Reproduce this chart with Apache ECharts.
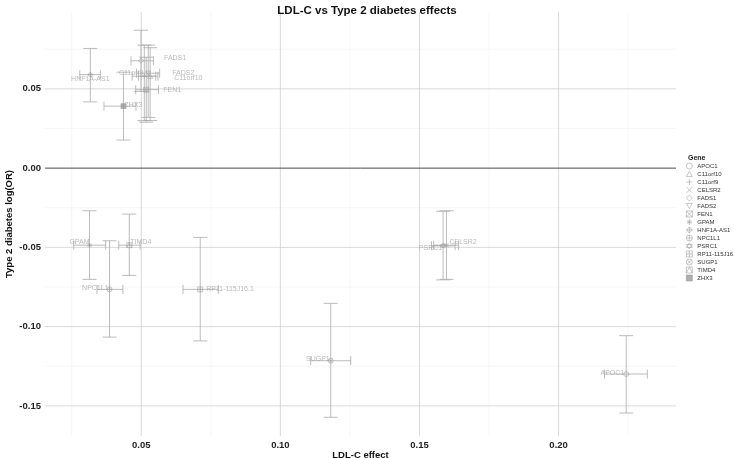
<!DOCTYPE html>
<html><head><meta charset="utf-8">
<script src="https://cdn.jsdelivr.net/npm/echarts@6/dist/echarts.min.js"></script>
<style>html,body{margin:0;padding:0;background:#fff}#c{width:734px;height:458px}</style>
</head><body><div id="c"></div>
<script>
// ---- data ----
const genes = ['APOC1','C11orf10','C11orf9','CELSR2','FADS1','FADS2','FEN1','GPAM','HNF1A-AS1','NPC1L1','PSRC1','RP11-115J16.1','SUGP1','TIMD4','ZHX3'];
const ldlEffect = [0.2243, 0.0532, 0.0511, 0.1597, 0.0499, 0.0525, 0.0518, 0.0314, 0.0317, 0.0386, 0.1585, 0.0712, 0.1181, 0.0457, 0.0436];
const ldlLow    = [0.2165, 0.0490, 0.0467, 0.1551, 0.0463, 0.0483, 0.0480, 0.0257, 0.0279, 0.0341, 0.1543, 0.0650, 0.1109, 0.0419, 0.0366];
const ldlHigh   = [0.2319, 0.0560, 0.0552, 0.1640, 0.0544, 0.0566, 0.0562, 0.0372, 0.0353, 0.0434, 0.1628, 0.0777, 0.1253, 0.0496, 0.0481];
const t2dEffect = [-0.1299, 0.0580, 0.0580, -0.0486, 0.0677, 0.0599, 0.0495, -0.0486, 0.0590, -0.0765, -0.0490, -0.0765, -0.1215, -0.0486, 0.0391];
const t2dLow    = [-0.1545, 0.0300, 0.0300, -0.0702, 0.0484, 0.0320, 0.0290, -0.0702, 0.0418, -0.1066, -0.0705, -0.1090, -0.1572, -0.0677, 0.0177];
const t2dHigh   = [-0.1057, 0.0760, 0.0776, -0.0269, 0.0870, 0.0776, 0.0700, -0.0269, 0.0755, -0.0458, -0.0272, -0.0437, -0.0853, -0.0290, 0.0605];
const xTicks = [0.05, 0.10, 0.15, 0.20];
const xMinor = [0.025, 0.075, 0.125, 0.175, 0.225];
const yTicks = [-0.15, -0.10, -0.05, 0.00, 0.05];
const yMinor = [-0.125, -0.075, -0.025, 0.025, 0.075];

// ---- styles ----
const X_MIN = 0.0154, X_MAX = 0.2422, Y_MIN = -0.169, Y_MAX = 0.0985;
const GRAY = '#9a9a9a';
const shapes = {
  'APOC1': 'path://M0,5A5,5,0,1,1,10,5A5,5,0,1,1,0,5Z',
  'C11orf10': 'path://M5,0L10,8.66L0,8.66Z',
  'C11orf9': 'path://M5,0L5,10M0,5L10,5',
  'CELSR2': 'path://M0,0L10,10M10,0L0,10',
  'FADS1': 'path://M5,0L10,5L5,10L0,5Z',
  'FADS2': 'path://M0,0L10,0L5,8.66Z',
  'FEN1': 'path://M0,0L10,0L10,10L0,10ZM0,0L10,10M10,0L0,10',
  'GPAM': 'path://M5,0L5,10M0,5L10,5M1.5,1.5L8.5,8.5M8.5,1.5L1.5,8.5',
  'HNF1A-AS1': 'path://M5,0L10,5L5,10L0,5ZM5,0L5,10M0,5L10,5',
  'NPC1L1': 'path://M0,5A5,5,0,1,1,10,5A5,5,0,1,1,0,5ZM5,0L5,10M0,5L10,5',
  'PSRC1': 'path://M5,0L10,7.5L0,7.5ZM0,2.5L10,2.5L5,10Z',
  'RP11-115J16.1': 'path://M0,0L10,0L10,10L0,10ZM5,0L5,10M0,5L10,5',
  'SUGP1': 'path://M0,5A5,5,0,1,1,10,5A5,5,0,1,1,0,5ZM1.46,1.46L8.54,8.54M8.54,1.46L1.46,8.54',
  'TIMD4': 'path://M0,0L10,0L10,10L0,10ZM0,10L5,0L10,10',
  'ZHX3': 'rect'
};
// label placement: [align, dx, dy]
const labelLayout = {
  'APOC1': ['right', -2, -1], 'C11orf10': ['left', 24, 2], 'C11orf9': ['right', -1, -3],
  'CELSR2': ['left', 3, -3], 'FADS1': ['left', 23, -3], 'FADS2': ['left', 24, 0],
  'FEN1': ['left', 17, 0], 'GPAM': ['right', 0, -3], 'HNF1A-AS1': ['center', 0, 4],
  'NPC1L1': ['right', -1, -1], 'PSRC1': ['right', -1, 2], 'RP11-115J16.1': ['left', 6, 0],
  'SUGP1': ['right', -1, -2], 'TIMD4': ['left', 1, -3], 'ZHX3': ['left', 1, -1]
};
const symStyle = g => ({color: g === 'ZHX3' ? GRAY : 'rgba(0,0,0,0)', borderColor: GRAY, borderWidth: 0.7});

const gridData = [];
xMinor.forEach(v => gridData.push([0, v, 0]));
yMinor.forEach(v => gridData.push([1, v, 0]));
xTicks.forEach(v => gridData.push([0, v, 1]));
yTicks.forEach(v => gridData.push([1, v, v === 0 ? 2 : 1]));

const errData = genes.map((g, i) => [ldlEffect[i], t2dEffect[i], ldlLow[i], ldlHigh[i], t2dLow[i], t2dHigh[i]]);

const series = [
  {
    type: 'custom', silent: true, z: 1, data: gridData,
    renderItem(params, api) {
      const cs = params.coordSys;
      const ax = api.value(0), v = api.value(1), kind = api.value(2);
      const style = kind === 2 ? {stroke: '#4a4a4a', lineWidth: 1}
                  : kind === 1 ? {stroke: '#cfcfcf', lineWidth: 0.8}
                  : {stroke: '#f0f0f0', lineWidth: 0.6};
      if (ax === 0) {
        const p = api.coord([v, Y_MIN]);
        return {type: 'line', shape: {x1: p[0], y1: cs.y, x2: p[0], y2: cs.y + cs.height}, style};
      }
      const p = api.coord([X_MIN, v]);
      return {type: 'line', shape: {x1: cs.x, y1: p[1], x2: cs.x + cs.width, y2: p[1]}, style};
    }
  },
  {
    type: 'custom', silent: true, z: 3, data: errData,
    renderItem(params, api) {
      const x = api.value(0), y = api.value(1);
      const pT = api.coord([x, api.value(5)]), pB = api.coord([x, api.value(4)]);
      const pL = api.coord([api.value(2), y]), pR = api.coord([api.value(3), y]);
      const cw = 7, ch = 4.5;
      const style = {stroke: '#ababab', lineWidth: 0.8, fill: null};
      const ln = (x1, y1, x2, y2) => ({type: 'line', shape: {x1, y1, x2, y2}, style});
      return {type: 'group', children: [
        ln(pT[0], pT[1], pB[0], pB[1]),
        ln(pT[0] - cw, pT[1], pT[0] + cw, pT[1]),
        ln(pB[0] - cw, pB[1], pB[0] + cw, pB[1]),
        ln(pL[0], pL[1], pR[0], pR[1]),
        ln(pL[0], pL[1] - ch, pL[0], pL[1] + ch),
        ln(pR[0], pR[1] - ch, pR[0], pR[1] + ch)
      ]};
    }
  }
];
genes.forEach((g, i) => {
  const lay = labelLayout[g];
  series.push({
    type: 'scatter', name: g, z: 5,
    symbol: shapes[g], symbolSize: 5, symbolKeepAspect: true,
    itemStyle: symStyle(g),
    label: {show: true, formatter: g, position: 'inside', align: lay[0], verticalAlign: 'middle',
            offset: [lay[1], lay[2]], fontSize: 7, color: '#a8a8a8'},
    emphasis: {disabled: true},
    data: [[ldlEffect[i], t2dEffect[i]]]
  });
});

const chart = echarts.init(document.getElementById('c'), null, {renderer: 'canvas'});
chart.setOption({
  animation: false,
  backgroundColor: '#fff',
  textStyle: {fontFamily: 'Liberation Sans, Arial, sans-serif'},
  title: [
    {text: 'LDL-C vs Type 2 diabetes effects', left: 'center', top: 0,
     textStyle: {fontSize: 11.5, fontWeight: 'bold', color: '#111'}},
    {text: 'Gene', left: 688, top: 155, padding: 0, textStyle: {fontSize: 7, fontWeight: 'bold', color: '#222'}}
  ],
  grid: {left: 45, right: 58, top: 12, bottom: 22, containLabel: false, outerBoundsMode: 'none'},
  xAxis: {
    type: 'value', min: X_MIN, max: X_MAX,
    name: 'LDL-C effect', nameLocation: 'middle', nameGap: 14, nameMoveOverlap: false,
    nameTextStyle: {fontSize: 9.5, fontWeight: 'bold', color: '#111'},
    axisLine: {show: false}, axisTick: {show: false}, splitLine: {show: false},
    axisLabel: {customValues: xTicks, formatter: v => v.toFixed(2), fontSize: 9.5, fontWeight: 'bold', color: '#222', margin: 4}
  },
  yAxis: {
    type: 'value', min: Y_MIN, max: Y_MAX,
    name: 'Type 2 diabetes log(OR)', nameLocation: 'middle', nameGap: 31, nameRotate: 90, nameMoveOverlap: false,
    nameTextStyle: {fontSize: 9.5, fontWeight: 'bold', color: '#111'},
    axisLine: {show: false}, axisTick: {show: false}, splitLine: {show: false},
    axisLabel: {customValues: yTicks, formatter: v => v.toFixed(2), fontSize: 9.5, fontWeight: 'bold', color: '#222', margin: 4}
  },
  legend: {
    orient: 'vertical', left: 686, top: 162, padding: 0,
    itemWidth: 6, itemHeight: 6, itemGap: 0, selectedMode: false,
    data: genes.map(g => ({name: g, itemStyle: symStyle(g)})),
    textStyle: {fontSize: 6, color: '#333', lineHeight: 8}
  },
  series
});
</script></body></html>
